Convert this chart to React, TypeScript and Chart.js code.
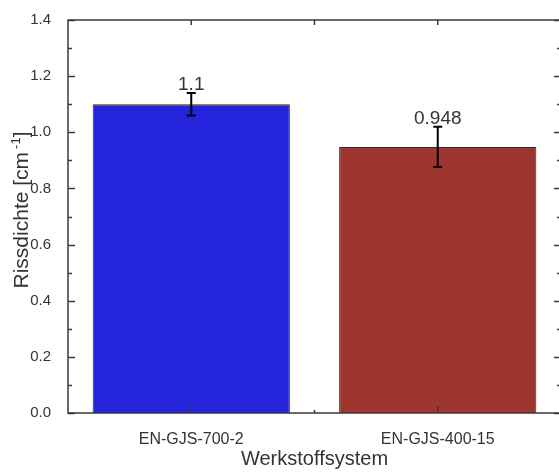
import React, { useEffect, useRef } from "react";
import { Chart, registerables } from "chart.js";

Chart.register(...registerables);

const categories = ["EN-GJS-700-2", "EN-GJS-400-15"];
const values = [1.1, 0.948];
const errors = [0.04, 0.072];
const valueLabels = ["1.1", "0.948"];
const barColors = ["#2424DC", "#9E3630"];
const yTicks = [0, 0.2, 0.4, 0.6, 0.8, 1.0, 1.2, 1.4];
const yMinorTicks = [0.1, 0.3, 0.5, 0.7, 0.9, 1.1, 1.3];
const xTitle = "Werkstoffsystem";
const yTitleMain = "Rissdichte [cm";
const yTitleSup = "-1";
const yTitleEnd = "]";

const FONT = "'Liberation Sans', Arial, sans-serif";
const AXIS = "#3a3a3a";
const TEXT = "#333333";

const decorPlugin = {
  id: "decor",
  afterDatasetsDraw(chart: any) {
    const { ctx, chartArea, scales } = chart;
    const { left, right, top, bottom } = chartArea;
    const y = scales.y;
    const x = scales.x;
    ctx.save();

    // error bars and value labels
    const meta = chart.getDatasetMeta(0);
    values.forEach((v, i) => {
      const el = meta.data[i];
      const cx = el.x;
      const yHi = y.getPixelForValue(v + errors[i]);
      const yLo = y.getPixelForValue(v - errors[i]);
      ctx.strokeStyle = "#000";
      ctx.lineWidth = 2;
      ctx.beginPath();
      ctx.moveTo(cx, yHi);
      ctx.lineTo(cx, yLo);
      ctx.moveTo(cx - 4.5, yHi);
      ctx.lineTo(cx + 4.5, yHi);
      ctx.moveTo(cx - 4.5, yLo);
      ctx.lineTo(cx + 4.5, yLo);
      ctx.stroke();
      ctx.fillStyle = TEXT;
      ctx.font = `19px ${FONT}`;
      ctx.textAlign = "center";
      ctx.textBaseline = "alphabetic";
      ctx.fillText(valueLabels[i], cx, yHi - 3);
    });

    // frame
    ctx.strokeStyle = AXIS;
    ctx.lineWidth = 1.5;
    ctx.strokeRect(left, top, right - left, bottom - top);

    // y ticks (inward, both sides)
    ctx.lineWidth = 1.5;
    ctx.beginPath();
    yTicks.forEach((t) => {
      const py = Math.round(y.getPixelForValue(t)) + 0.5;
      ctx.moveTo(left, py);
      ctx.lineTo(left + 7, py);
      ctx.moveTo(right, py);
      ctx.lineTo(right - 7, py);
    });
    yMinorTicks.forEach((t) => {
      const py = Math.round(y.getPixelForValue(t)) + 0.5;
      ctx.moveTo(left, py);
      ctx.lineTo(left + 4, py);
      ctx.moveTo(right, py);
      ctx.lineTo(right - 4, py);
    });
    // x ticks
    const xs = categories.map((_, i) => x.getPixelForValue(i));
    const mid = (xs[0] + xs[1]) / 2;
    xs.forEach((px) => {
      ctx.moveTo(px, bottom);
      ctx.lineTo(px, bottom - 7);
      ctx.moveTo(px, top);
      ctx.lineTo(px, top + 5);
    });
    ctx.moveTo(mid, bottom);
    ctx.lineTo(mid, bottom - 3);
    ctx.moveTo(mid, top);
    ctx.lineTo(mid, top + 5);
    ctx.stroke();

    // y title with superscript
    ctx.fillStyle = TEXT;
    ctx.textBaseline = "middle";
    ctx.textAlign = "left";
    const mainFont = `21px ${FONT}`;
    const supFont = `13px ${FONT}`;
    ctx.font = mainFont;
    const w1 = ctx.measureText(yTitleMain).width;
    const w3 = ctx.measureText(yTitleEnd).width;
    ctx.font = supFont;
    const w2 = ctx.measureText(yTitleSup).width;
    const gap = 3;
    const total = w1 + gap + w2 + w3;
    ctx.translate(22, 210);
    ctx.rotate(-Math.PI / 2);
    let sx = -total / 2;
    ctx.font = mainFont;
    ctx.fillText(yTitleMain, sx, 0);
    sx += w1 + gap;
    ctx.font = supFont;
    ctx.fillText(yTitleSup, sx, -6);
    sx += w2;
    ctx.font = mainFont;
    ctx.fillText(yTitleEnd, sx, 0);

    ctx.restore();
  },
};

export default function App() {
  const ref = useRef<HTMLCanvasElement | null>(null);
  useEffect(() => {
    if (!ref.current) return;
    const chart = new Chart(ref.current, {
      type: "bar",
      data: {
        labels: categories,
        datasets: [
          {
            data: values,
            backgroundColor: barColors,
            borderColor: "#2a2a2a",
            borderWidth: 1,
            barPercentage: 0.8,
            categoryPercentage: 1,
          },
        ],
      },
      options: {
        animation: false,
        responsive: false,
        devicePixelRatio: 1,
        layout: { padding: { left: 0, right: 14, top: 20, bottom: 0 } },
        plugins: {
          legend: { display: false },
          tooltip: { enabled: false },
        },
        scales: {
          x: {
            grid: { display: false },
            border: { display: false },
            ticks: {
              color: TEXT,
              font: { family: FONT, size: 16 },
              padding: 9,
              maxRotation: 0,
            },
            title: {
              display: true,
              text: xTitle,
              color: TEXT,
              font: { family: FONT, size: 20 },
              padding: { top: 0, bottom: 4 },
            },
            afterFit: (s: any) => {
              s.height = 62;
            },
          },
          y: {
            min: 0,
            max: 1.4,
            grid: { display: false },
            border: { display: false },
            ticks: {
              stepSize: 0.2,
              color: TEXT,
              font: { family: FONT, size: 15 },
              padding: 9,
              callback: (v: any) => Number(v).toFixed(1),
            },
            afterFit: (s: any) => {
              s.width = 68;
            },
          },
        },
      },
      plugins: [decorPlugin],
    });
    return () => chart.destroy();
  }, []);
  return (
    <div
      style={{
        position: "fixed",
        left: 0,
        top: 0,
        width: 559,
        height: 475,
        overflow: "hidden",
        background: "#fff",
      }}
    >
      <canvas ref={ref} width={575} height={475} style={{ width: 575, height: 475, display: "block" }} />
    </div>
  );
}
